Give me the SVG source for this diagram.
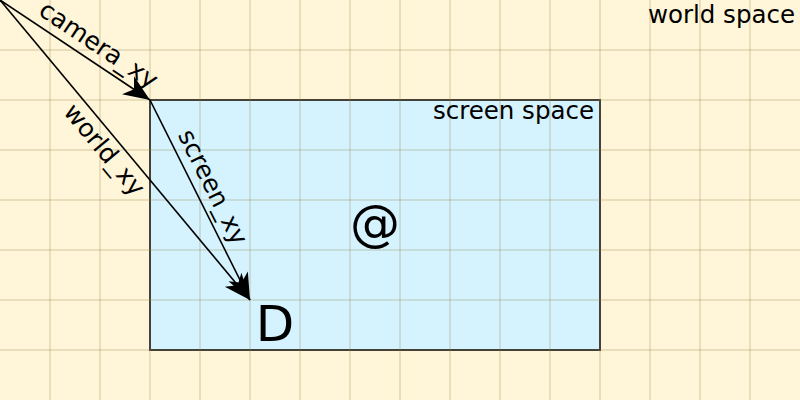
<svg xmlns="http://www.w3.org/2000/svg" width="800" height="400" viewBox="0 0 800 400">
<style>
.grid line{stroke:rgba(150,125,70,0.2);stroke-width:2}
.conn{stroke:#000;stroke-width:1.6;fill:none;marker-end:url(#ah)}
.lbl{font-family:"DejaVu Sans",Verdana,sans-serif;font-size:24.5px;fill:#000}
.rl{font-family:"DejaVu Sans",Verdana,sans-serif;font-size:25px;fill:#000;text-anchor:middle}
.big{font-family:"DejaVu Sans",Verdana,sans-serif;font-size:50px;fill:#000;text-anchor:middle}
</style>
<defs>
<marker id="ah" markerUnits="userSpaceOnUse" orient="auto" markerWidth="30" markerHeight="30" viewBox="-23 -11 25 22" refX="0" refY="0">
<path d="M0,0 L-22,-9 L-16,0 L-22,9 Z" fill="#000"/>
</marker>
</defs>
<rect x="0" y="0" width="800" height="400" fill="#fff5d8"/>
<g id="screen">
<rect x="150" y="100" width="450" height="250" fill="#d4f3fe" stroke="#333" stroke-width="2"/>
</g>
<g class="grid">
<line x1="50" y1="0" x2="50" y2="400"/><line x1="100" y1="0" x2="100" y2="400"/>
<line x1="150" y1="0" x2="150" y2="400"/><line x1="200" y1="0" x2="200" y2="400"/>
<line x1="250" y1="0" x2="250" y2="400"/><line x1="300" y1="0" x2="300" y2="400"/>
<line x1="350" y1="0" x2="350" y2="400"/><line x1="400" y1="0" x2="400" y2="400"/>
<line x1="450" y1="0" x2="450" y2="400"/><line x1="500" y1="0" x2="500" y2="400"/>
<line x1="550" y1="0" x2="550" y2="400"/><line x1="600" y1="0" x2="600" y2="400"/>
<line x1="650" y1="0" x2="650" y2="400"/><line x1="700" y1="0" x2="700" y2="400"/>
<line x1="750" y1="0" x2="750" y2="400"/>
<line x1="0" y1="50" x2="800" y2="50"/><line x1="0" y1="100" x2="800" y2="100"/>
<line x1="0" y1="150" x2="800" y2="150"/><line x1="0" y1="200" x2="800" y2="200"/>
<line x1="0" y1="250" x2="800" y2="250"/><line x1="0" y1="300" x2="800" y2="300"/>
<line x1="0" y1="350" x2="800" y2="350"/>
</g>
<g id="labels-space">
<text class="lbl" x="795" y="23" text-anchor="end">world space</text>
<text class="lbl" x="594" y="119" text-anchor="end">screen space</text>
</g>
<g id="connectors">
<line class="conn" x1="0" y1="0" x2="150" y2="100"/>
<line class="conn" x1="0" y1="0" x2="250" y2="300"/>
<line class="conn" x1="150" y1="100" x2="250" y2="300"/>
<text class="rl" transform="rotate(33.69)" x="107" y="-9">camera_xy</text>
<text class="rl" transform="rotate(50.19)" x="182" y="24">world_xy</text>
<text class="rl" transform="translate(150,100) rotate(63.43)" x="106" y="-9">screen_xy</text>
</g>
<g id="player"><text class="big" x="375" y="240">@</text></g>
<g id="dot"><text class="big" x="275" y="341">D</text></g>
</svg>
